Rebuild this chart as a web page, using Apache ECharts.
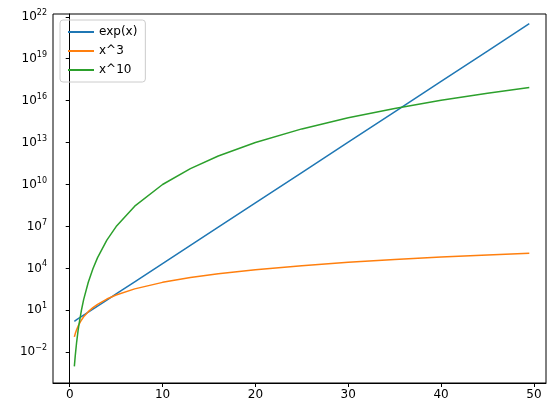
<!DOCTYPE html>
<html>
<head>
<meta charset="utf-8">
<script src="https://cdn.jsdelivr.net/npm/echarts@6/dist/echarts.min.js"></script>
<style>html,body{margin:0;padding:0;background:#fff}#chart{width:558px;height:417px}</style>
</head>
<body>
<div id="chart"></div>
<script>
// values
var xs = [0.5, 0.6, 0.75, 0.9, 1, 1.25, 1.5, 2, 2.5, 3, 4, 5, 7, 10, 13, 16, 20, 25, 30, 35, 40, 45, 49.5];
var expVals = [1.65, 1.82, 2.12, 2.46, 2.72, 3.49, 4.48, 7.39, 12.2, 20.1, 54.6, 148, 1097, 22026, 4.42e5, 8.89e6, 4.85e8, 7.2e10, 1.07e13, 1.59e15, 2.35e17, 3.49e19, 3.2e21];
var cubeVals = [0.125, 0.216, 0.42, 0.73, 1, 1.95, 3.4, 8, 15.6, 27, 64, 125, 343, 1000, 2197, 4096, 8000, 15625, 27000, 42875, 64000, 91125, 121287];
var tenVals = [9.8e-4, 6.0e-3, 0.056, 0.35, 1, 9.3, 57.7, 1024, 9537, 59049, 1.05e6, 9.77e6, 2.82e8, 1e10, 1.38e11, 1.1e12, 1.02e13, 9.54e13, 5.9e14, 2.76e15, 1.05e16, 3.4e16, 8.9e16];
var xTicks = [0, 10, 20, 30, 40, 50];
var yTickExps = [-2, 1, 4, 7, 10, 13, 16, 19, 22];

function pairs(v) { return xs.map(function (x, i) { return [x, v[i]]; }); }

var chart = echarts.init(document.getElementById('chart'));
var font = 'DejaVu Sans';
var lineBase = { type: 'line', showSymbol: false, symbol: 'none', lineStyle: { width: 1.5 } };

chart.setOption({
  animation: false,
  textStyle: { fontFamily: font },
  grid: { left: 53, right: 12, top: 14, bottom: 34 },
  legend: {
    left: 60, top: 20, orient: 'vertical', itemWidth: 26, itemHeight: 2, itemGap: 7,
    icon: 'rect', borderColor: '#ccc', borderWidth: 1, borderRadius: 3, padding: [6, 8, 6, 8],
    textStyle: { fontSize: 12, color: '#000', fontFamily: font },
    data: ['exp(x)', 'x^3', 'x^10']
  },
  xAxis: {
    type: 'value', min: -1.8, max: 51.3,
    axisLine: { onZero: false, lineStyle: { color: '#000' } },
    axisTick: { customValues: xTicks, length: 4, lineStyle: { color: '#000' } },
    axisLabel: { customValues: xTicks, color: '#000', fontSize: 12, margin: 6 },
    splitLine: { show: false }
  },
  yAxis: {
    type: 'log', logBase: 10, min: Math.pow(10, -4.2), max: Math.pow(10, 22.2),
    axisLine: { show: true, lineStyle: { color: '#000' } },
    axisTick: { show: true, customValues: yTickExps.map(function (e) { return Math.pow(10, e); }), length: 4, lineStyle: { color: '#000' } },
    axisLabel: {
      customValues: yTickExps.map(function (e) { return Math.pow(10, e); }),
      color: '#000', fontSize: 12, margin: 6,
      formatter: function (v) {
        var e = Math.round(Math.log10(v));
        return '10{s|' + String(e).replace('-', '\u2212') + '}';
      },
      rich: { s: { fontSize: 8, verticalAlign: 'top', padding: [0, 0, 8, 0], color: '#000' } }
    },
    splitLine: { show: false }
  },
  series: [
    Object.assign({ name: 'exp(x)', color: '#1f77b4', data: pairs(expVals) }, lineBase),
    Object.assign({ name: 'x^3', color: '#ff7f0e', data: pairs(cubeVals) }, lineBase),
    Object.assign({ name: 'x^10', color: '#2ca02c', data: pairs(tenVals) }, lineBase)
  ]
});
// close the frame on the top and right
chart.setOption({
  graphic: [{ type: 'rect', shape: { x: 53, y: 14, width: 493, height: 369 }, style: { fill: 'none', stroke: '#000', lineWidth: 1 }, silent: true, z: -1 }]
});
</script>
</body>
</html>
